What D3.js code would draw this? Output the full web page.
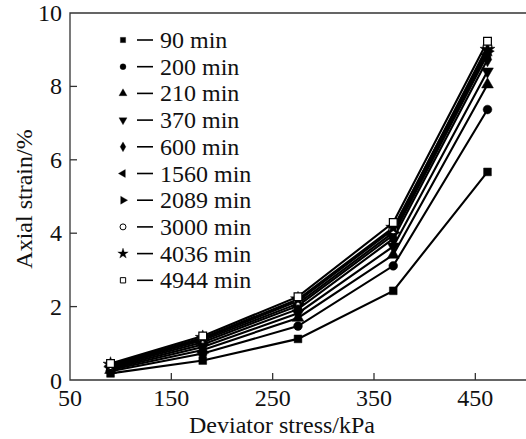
<!DOCTYPE html>
<html>
<head>
<meta charset="utf-8">
<script src="https://cdn.jsdelivr.net/npm/d3@7"></script>
<style>
  body { margin: 0; background: #fff; }
</style>
</head>
<body>
<div id="main"></div>
<script>
const w = 526, h = 439;
const margin = {top: 13, right: 0, bottom: 59, left: 70};

const stress = [90, 181, 275, 369, 462];
const seriesNames = ['90 min','200 min','210 min','370 min','600 min','1560 min','2089 min','3000 min','4036 min','4944 min'];
const s90   = [0.18, 0.53, 1.12, 2.43, 5.67];
const s200  = [0.24, 0.72, 1.47, 3.11, 7.37];
const s210  = [0.27, 0.82, 1.69, 3.41, 8.05];
const s370  = [0.30, 0.90, 1.82, 3.64, 8.41];
const s600  = [0.33, 0.97, 1.93, 3.85, 8.73];
const s1560 = [0.36, 1.03, 2.02, 3.95, 8.87];
const s2089 = [0.38, 1.08, 2.08, 4.02, 8.96];
const s3000 = [0.40, 1.12, 2.15, 4.10, 9.09];
const s4036 = [0.42, 1.15, 2.20, 4.15, 9.00];
const s4944 = [0.45, 1.20, 2.27, 4.29, 9.23];
const allSeries = [s90, s200, s210, s370, s600, s1560, s2089, s3000, s4036, s4944];
const xTicks = [50, 150, 250, 350, 450];
const yTicks = [0, 2, 4, 6, 8, 10];

// marker: [d3 symbol, rotation, filled]
const markers = [
  [d3.symbolSquare, 0, true],
  [d3.symbolCircle, 0, true],
  [d3.symbolTriangle, 0, true],
  [d3.symbolTriangle, 180, true],
  [d3.symbolDiamond, 0, true],
  [d3.symbolTriangle, -90, true],
  [d3.symbolTriangle, 90, true],
  [d3.symbolCircle, 0, false],
  [d3.symbolStar, 0, true],
  [d3.symbolSquare, 0, false]
];

const svg = d3.select('#main').append('svg')
  .attr('width', w).attr('height', h);

const x = d3.scaleLinear().domain([50, 500]).range([margin.left, w - margin.right]);
const y = d3.scaleLinear().domain([0, 10]).range([h - margin.bottom, margin.top]);

// frame
svg.append('path')
  .attr('d', `M${x(500)},${y(10)}H${x(50)}V${y(0)}H${x(500)}`)
  .attr('fill', 'none').attr('stroke', '#333').attr('stroke-width', 1.3);

// ticks (inward)
svg.selectAll('.xt').data(xTicks.slice(1)).enter().append('line')
  .attr('x1', d => x(d)).attr('x2', d => x(d))
  .attr('y1', y(0)).attr('y2', y(0) - 7)
  .attr('stroke', '#333').attr('stroke-width', 1.3);
svg.selectAll('.yt').data(yTicks.slice(1, -1)).enter().append('line')
  .attr('x1', x(50)).attr('x2', x(50) + 7)
  .attr('y1', d => y(d)).attr('y2', d => y(d))
  .attr('stroke', '#333').attr('stroke-width', 1.3);

svg.selectAll('.xl').data(xTicks).enter().append('text')
  .attr('x', d => x(d)).attr('y', y(0) + 26)
  .attr('text-anchor', 'middle').attr('font-size', 24)
  .text(d => d);
svg.selectAll('.yl').data(yTicks).enter().append('text')
  .attr('x', x(50) - 8).attr('y', d => y(d) + (d === 0 ? 9 : 8))
  .attr('text-anchor', 'end').attr('font-size', 24)
  .text(d => d);

svg.append('text')
  .attr('x', 282).attr('y', 433)
  .attr('text-anchor', 'middle').attr('font-size', 24)
  .text('Deviator stress/kPa');
svg.append('text')
  .attr('transform', 'translate(32,199) rotate(-90)')
  .attr('text-anchor', 'middle').attr('font-size', 24)
  .text('Axial strain/%');

const line = d3.line().x((d, i) => x(stress[i])).y(d => y(d));

allSeries.forEach((vals) => {
  svg.append('path')
    .datum(vals)
    .attr('d', line)
    .attr('fill', 'none')
    .attr('stroke', '#000')
    .attr('stroke-width', 2.1);
});

allSeries.forEach((vals, k) => {
  const m = markers[k];
  svg.selectAll('.m' + k).data(vals).enter().append('path')
    .attr('d', d3.symbol().type(m[0]).size(m[0] === d3.symbolStar ? 70 : 60)())
    .attr('transform', (d, i) => `translate(${x(stress[i])},${y(d)}) rotate(${m[1]})`)
    .attr('fill', m[2] ? '#000' : '#fff')
    .attr('stroke', '#000')
    .attr('stroke-width', m[2] ? 0.5 : 1.2);
});

// legend
const legend = svg.append('g').attr('id', 'legend');
seriesNames.forEach((name, k) => {
  const m = markers[k];
  const ly = 40 + k * 26.7;
  legend.append('path')
    .attr('d', d3.symbol().type(m[0]).size(m[0] === d3.symbolStar ? 34 : 28)())
    .attr('transform', `translate(123,${ly}) rotate(${m[1]})`)
    .attr('fill', m[2] ? '#000' : '#fff')
    .attr('stroke', '#000')
    .attr('stroke-width', m[2] ? 0.3 : 1);
  legend.append('line')
    .attr('x1', 137).attr('x2', 153)
    .attr('y1', ly).attr('y2', ly)
    .attr('stroke', '#000').attr('stroke-width', 1.6);
  legend.append('text')
    .attr('x', 160).attr('y', ly + 8)
    .attr('font-size', 24)
    .text(name);
});

// font on every text element
svg.selectAll('text')
  .style('font-family', '"Liberation Serif"')
  .style('fill', '#111');
</script>
</body>
</html>
